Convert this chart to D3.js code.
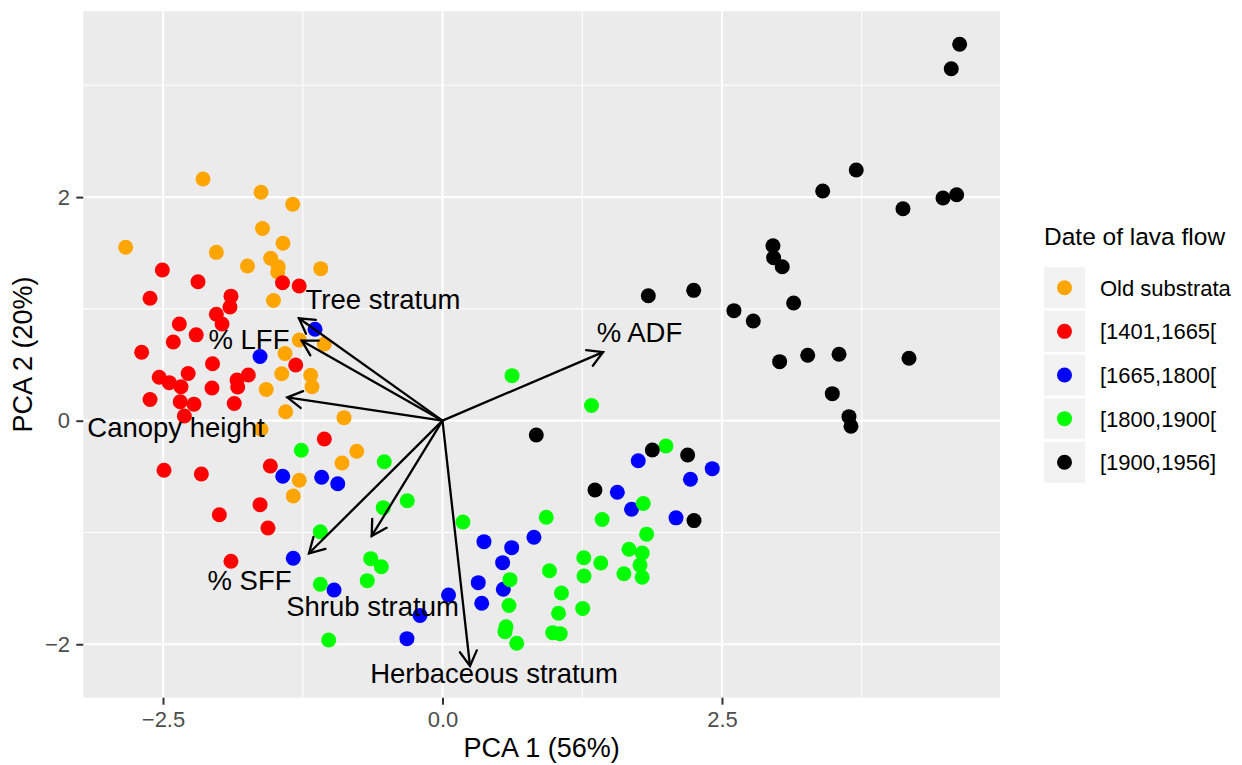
<!DOCTYPE html>
<html>
<head>
<meta charset="utf-8">
<script src="https://cdn.jsdelivr.net/npm/d3@7"></script>
<style>
  body { margin: 0; background: #fff; }
  text { font-family: "Liberation Sans", Arial, Helvetica, sans-serif; }
</style>
</head>
<body>
<div id="chart"></div>
<script>
// PCA biplot, lava flow dates

const width = 1242;
const height = 765;
const panel = { left: 83.3, right: 1000, top: 11.3, bottom: 697.7 };

// PCA scores per group [PC1, PC2]
const oldSubstrata = [
  [-2.142, 2.162], [-1.623, 2.043], [-1.340, 1.936], [-1.610, 1.719], [-2.834, 1.551],
  [-2.023, 1.506], [-1.427, 1.587], [-1.744, 1.384], [-1.537, 1.453], [-1.469, 1.377],
  [-1.474, 1.330], [-1.089, 1.360], [-1.512, 1.075], [-1.281, 0.722], [-1.057, 0.686],
  [-1.409, 0.601], [-1.438, 0.420], [-1.179, 0.406], [-1.577, 0.279], [-1.167, 0.304],
  [-1.403, 0.080], [-0.881, 0.027], [-1.623, -0.077], [-0.767, -0.274], [-0.899, -0.378],
  [-1.281, -0.533], [-1.335, -0.674]
];
const flow1401 = [
  [-2.506, 1.348], [-2.187, 1.243], [-1.431, 1.234], [-1.282, 1.205], [-2.616, 1.095],
  [-1.892, 1.114], [-1.901, 1.017], [-2.023, 0.952], [-1.972, 0.865], [-2.354, 0.865],
  [-2.203, 0.768], [-2.408, 0.704], [-2.691, 0.612], [-2.057, 0.509], [-1.313, 0.498],
  [-2.534, 0.389], [-2.444, 0.340], [-2.275, 0.422], [-2.339, 0.304], [-2.062, 0.292],
  [-1.838, 0.364], [-1.737, 0.409], [-1.832, 0.301], [-2.616, 0.190], [-2.346, 0.169],
  [-2.223, 0.148], [-1.863, 0.154], [-2.309, 0.042], [-1.057, -0.164], [-1.540, -0.405],
  [-2.491, -0.444], [-2.157, -0.477], [-1.632, -0.751], [-1.996, -0.841], [-1.561, -0.960],
  [-1.892, -1.258]
];
const flow1665 = [
  [-1.140, 0.818], [-1.632, 0.574], [-1.429, -0.497], [-1.081, -0.506], [-0.937, -0.564],
  [-1.335, -1.231], [-0.970, -1.514], [0.054, -1.559], [-0.201, -1.742], [-0.318, -1.950],
  [0.371, -1.082], [0.619, -1.136], [0.818, -1.043], [0.538, -1.270], [0.320, -1.449],
  [0.544, -1.508], [0.351, -1.633], [1.751, -0.359], [2.413, -0.429], [2.218, -0.524],
  [1.564, -0.640], [1.691, -0.792], [2.089, -0.869]
];
const flow1800 = [
  [-1.263, -0.265], [-0.521, -0.367], [-0.315, -0.716], [-0.530, -0.778], [-1.093, -0.993],
  [-0.642, -1.234], [-0.547, -1.306], [-1.093, -1.463], [-0.673, -1.431], [-1.018, -1.962],
  [0.622, 0.403], [1.333, 0.136], [1.999, -0.226], [1.796, -0.741], [1.428, -0.884],
  [0.928, -0.864], [0.183, -0.906], [1.826, -1.015], [1.668, -1.150], [1.787, -1.183],
  [1.264, -1.226], [1.416, -1.273], [1.767, -1.292], [0.957, -1.342], [1.623, -1.369],
  [1.786, -1.401], [1.266, -1.389], [0.604, -1.422], [1.064, -1.541], [0.595, -1.653],
  [1.038, -1.723], [1.254, -1.680], [0.568, -1.843], [0.559, -1.887], [0.986, -1.896],
  [1.053, -1.905], [0.664, -1.991]
];
const flow1900 = [
  [4.626, 3.367], [4.551, 3.148], [3.701, 2.242], [3.401, 2.055], [4.119, 1.896],
  [4.477, 1.992], [4.599, 2.021], [2.956, 1.565], [2.962, 1.458], [3.039, 1.377],
  [1.841, 1.118], [2.247, 1.166], [3.141, 1.053], [2.607, 0.984], [2.780, 0.892],
  [3.016, 0.528], [3.267, 0.585], [3.547, 0.594], [4.173, 0.558], [3.487, 0.242],
  [3.636, 0.036], [3.654, -0.050], [0.839, -0.128], [1.877, -0.262], [2.193, -0.307],
  [1.364, -0.620], [2.250, -0.894]
];

const groupNames = ["Old substrata", "[1401,1665[", "[1665,1800[", "[1800,1900[", "[1900,1956]"];
const groupColors = ["#FFA500", "#FF0000", "#0000FF", "#00FF00", "#000000"];
const groupScores = [oldSubstrata, flow1401, flow1665, flow1800, flow1900];

// loadings (arrow tips) and their label positions
const varNames = ["Tree stratum", "% LFF", "Canopy height", "% SFF", "Shrub stratum", "Herbaceous stratum", "% ADF"];
const varArrows = [[-1.284, 0.916], [-1.259, 0.716], [-1.388, 0.209], [-1.194, -1.186], [-0.633, -1.031], [0.246, -2.194], [1.436, 0.613]];
const varLabels = [[-0.532, 1.089], [-1.731, 0.731], [-2.384, -0.056], [-1.726, -1.425], [-0.626, -1.657], [0.461, -2.257], [1.762, 0.793]];

const xTicks = [-2.5, 0, 2.5];
const xTickLabels = ["\u22122.5", "0.0", "2.5"];
const xMinor = [-1.25, 1.25, 3.75];
const yTicks = [-2, 0, 2];
const yTickLabels = ["\u22122", "0", "2"];
const yMinor = [-1, 1, 3];

const svg = d3.select("#chart")
  .append("svg")
  .attr("width", width)
  .attr("height", height);

const xScale = d3.scaleLinear()
  .domain([-3.213, 4.987])
  .range([panel.left, panel.right]);

const yScale = d3.scaleLinear()
  .domain([-2.478, 3.662])
  .range([panel.bottom, panel.top]);

// panel background + grid
svg.append("rect")
  .attr("x", panel.left)
  .attr("y", panel.top)
  .attr("width", panel.right - panel.left)
  .attr("height", panel.bottom - panel.top)
  .attr("fill", "#EBEBEB");

const grid = svg.append("g");
grid.selectAll(".xminor").data(xMinor).enter().append("line")
  .attr("x1", d => xScale(d)).attr("x2", d => xScale(d))
  .attr("y1", panel.top).attr("y2", panel.bottom)
  .attr("stroke", "#fff").attr("stroke-width", 1.1);
grid.selectAll(".yminor").data(yMinor).enter().append("line")
  .attr("y1", d => yScale(d)).attr("y2", d => yScale(d))
  .attr("x1", panel.left).attr("x2", panel.right)
  .attr("stroke", "#fff").attr("stroke-width", 1.1);
grid.selectAll(".xmajor").data(xTicks).enter().append("line")
  .attr("x1", d => xScale(d)).attr("x2", d => xScale(d))
  .attr("y1", panel.top).attr("y2", panel.bottom)
  .attr("stroke", "#fff").attr("stroke-width", 2.2);
grid.selectAll(".ymajor").data(yTicks).enter().append("line")
  .attr("y1", d => yScale(d)).attr("y2", d => yScale(d))
  .attr("x1", panel.left).attr("x2", panel.right)
  .attr("stroke", "#fff").attr("stroke-width", 2.2);

// axes
const xAxis = svg.append("g")
  .attr("transform", `translate(0,${panel.bottom})`)
  .call(d3.axisBottom(xScale).tickValues(xTicks)
    .tickFormat((d, i) => xTickLabels[i]).tickSize(7).tickPadding(6.7));

const yAxis = svg.append("g")
  .attr("transform", `translate(${panel.left},0)`)
  .call(d3.axisLeft(yScale).tickValues(yTicks)
    .tickFormat((d, i) => yTickLabels[i]).tickSize(7).tickPadding(6.3));

[xAxis, yAxis].forEach(ax => {
  ax.select(".domain").remove();
  ax.selectAll(".tick line").attr("stroke", "#333333").attr("stroke-width", 2);
  ax.selectAll(".tick text")
    .attr("fill", "#4D4D4D")
    .style("font-size", "22px")
    .style("font-family", "'Liberation Sans', Arial, sans-serif");
});

// points
const pts = [];
groupScores.forEach((g, gi) => g.forEach(p => pts.push({ x: p[0], y: p[1], g: gi })));

svg.append("g").selectAll("circle")
  .data(pts)
  .enter()
  .append("circle")
  .attr("cx", d => xScale(d.x))
  .attr("cy", d => yScale(d.y))
  .attr("r", 7.5)
  .attr("fill", d => groupColors[d.g]);

// loading arrows
const x0 = xScale(0), y0 = yScale(0);
const headLen = 17, headAng = Math.PI / 6;
const arrows = svg.append("g")
  .attr("fill", "none")
  .attr("stroke", "#000")
  .attr("stroke-width", 2.3)
  .attr("stroke-linecap", "round");

varArrows.forEach(a => {
  const x1 = xScale(a[0]), y1 = yScale(a[1]);
  const ang = Math.atan2(y1 - y0, x1 - x0);
  arrows.append("line")
    .attr("x1", x0).attr("y1", y0).attr("x2", x1).attr("y2", y1);
  arrows.append("path")
    .attr("d", `M${x1 - headLen * Math.cos(ang - headAng)},${y1 - headLen * Math.sin(ang - headAng)}` +
      `L${x1},${y1}` +
      `L${x1 - headLen * Math.cos(ang + headAng)},${y1 - headLen * Math.sin(ang + headAng)}`);
});

svg.append("g").selectAll("text")
  .data(varNames)
  .enter()
  .append("text")
  .attr("x", (d, i) => xScale(varLabels[i][0]))
  .attr("y", (d, i) => yScale(varLabels[i][1]))
  .attr("dy", "0.36em")
  .attr("text-anchor", "middle")
  .style("font-size", "27.5px")
  .attr("fill", "#000")
  .text(d => d);

// axis titles
svg.append("text")
  .attr("x", (panel.left + panel.right) / 2)
  .attr("y", 757)
  .attr("text-anchor", "middle")
  .style("font-size", "27px")
  .text("PCA 1 (56%)");

svg.append("text")
  .attr("transform", "rotate(-90)")
  .attr("x", -(panel.top + panel.bottom) / 2)
  .attr("y", 32)
  .attr("text-anchor", "middle")
  .style("font-size", "27px")
  .text("PCA 2 (20%)");

// legend
const legend = svg.append("g");
const keyStep = 43.65, keyTop = 287.7, keyX = 1044;

legend.append("text")
  .attr("x", keyX)
  .attr("y", 245)
  .style("font-size", "24.5px")
  .text("Date of lava flow");

const keys = legend.selectAll(".key")
  .data(groupNames)
  .enter()
  .append("g")
  .attr("transform", (d, i) => `translate(${keyX},${keyTop + i * keyStep})`);

keys.append("rect")
  .attr("x", 0)
  .attr("y", -20.5)
  .attr("width", 41)
  .attr("height", 41)
  .attr("fill", "#F2F2F2");

keys.append("circle")
  .attr("cx", 20.5)
  .attr("cy", 0)
  .attr("r", 7.5)
  .attr("fill", (d, i) => groupColors[i]);

keys.append("text")
  .attr("x", 56)
  .attr("dy", "0.36em")
  .style("font-size", "22px")
  .attr("fill", "#000")
  .text(d => d);
</script>
</body>
</html>
